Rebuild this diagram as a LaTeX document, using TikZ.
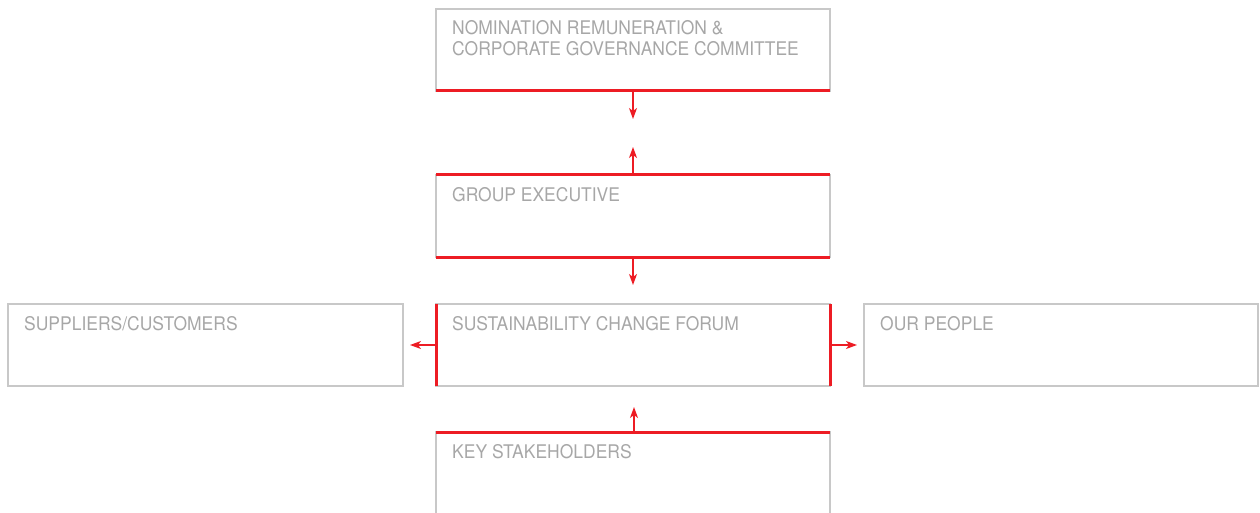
\documentclass[tikz,border=0pt]{standalone}
\usepackage{fontspec}
\setmainfont{TeX Gyre Heros}[FakeStretch=0.93]
\usetikzlibrary{arrows.meta,calc}
\definecolor{boxgrey}{HTML}{C8C8C8}
\definecolor{textgrey}{HTML}{A7A7A7}
\definecolor{accent}{HTML}{ED1C24}
\begin{document}
\begin{tikzpicture}[x=1pt,y=-1pt,
  box/.style={draw=boxgrey, line width=1.2pt, minimum width=394pt, minimum height=82pt,
    inner sep=0pt, outer sep=0pt},
  boxtext/.style={anchor=base west, inner sep=0pt, text=textgrey,
    font=\fontsize{18.8}{21}\selectfont},
  accentline/.style={draw=accent, line width=3pt},
  flow/.style={draw=accent, line width=1.2pt, -{Stealth[length=11pt,width=8pt,inset=3pt]}}
]
\useasboundingbox (0,0) rectangle (1260,513);
\clip (0,0) rectangle (1260,513);

% boxes
\node[box] (nom) at (633,50) {};
\node[box] (ge)  at (633,216) {};
\node[box] (scf) at (633,345) {};
\node[box, minimum width=395pt] (sup) at (205.5,345) {};
\node[box] (ppl) at (1061,345) {};
\node[box] (ks)  at (633,473) {};

% labels, one node per printed line
\node[boxtext] (nomtxt)  at ($(nom.north west)+(16,26)$) {NOMINATION REMUNERATION \&};
\node[boxtext] (nomtxtb) at ($(nom.north west)+(16,47)$) {CORPORATE GOVERNANCE COMMITTEE};
\node[boxtext] (getxt)  at ($(ge.north west)+(16,26)$)  {GROUP EXECUTIVE};
\node[boxtext] (scftxt) at ($(scf.north west)+(16,26)$) {SUSTAINABILITY CHANGE FORUM};
\node[boxtext] (suptxt) at ($(sup.north west)+(16,26)$) {SUPPLIERS/CUSTOMERS};
\node[boxtext] (ppltxt) at ($(ppl.north west)+(16,26)$) {OUR PEOPLE};
\node[boxtext] (kstxt)  at ($(ks.north west)+(16,26)$)  {KEY STAKEHOLDERS};

% accent edges
\draw[accentline] (nom.south west) -- (nom.south east);
\draw[accentline] (ge.north west) -- (ge.north east);
\draw[accentline] (ge.south west) -- (ge.south east);
\draw[accentline] (scf.north west) -- (scf.south west);
\draw[accentline] (scf.north east) -- (scf.south east);
\draw[accentline] (ks.north west) -- (ks.north east);

% arrow tips
\coordinate (t1) at (633,119);
\coordinate (t2) at (633,147);
\coordinate (t3) at (633,285);
\coordinate (t4) at (410,345);
\coordinate (t5) at (857,345);
\coordinate (t6) at (634,407);

\draw[flow] (nom.south) -- (t1);
\draw[flow] (ge.north) -- (t2);
\draw[flow] (ge.south) -- (t3);
\draw[flow] (scf.west) -- (t4);
\draw[flow] (scf.east) -- (t5);
\draw[flow] (ks.north -| t6) -- (t6);
\end{tikzpicture}
\end{document}
